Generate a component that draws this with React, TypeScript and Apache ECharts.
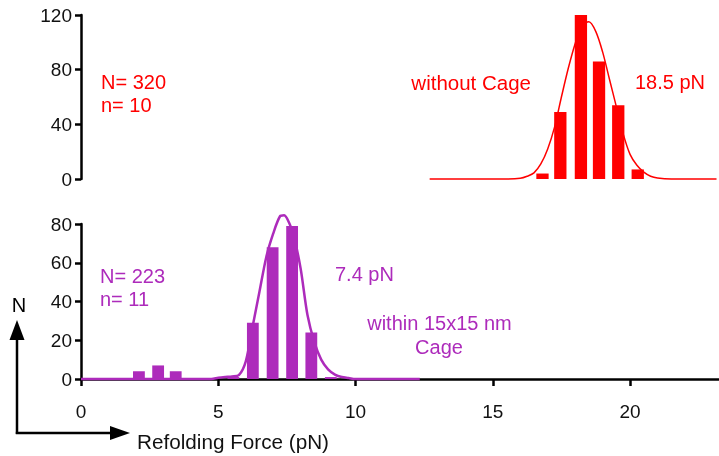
import React, { useEffect, useRef } from "react";
import * as echarts from "echarts";

// ---- data ----
const xTickValues = [0, 5, 10, 15, 20];

// top panel: without cage (red)
const topBinCenters = [16.81, 17.46, 18.21, 18.87, 19.57, 20.28];
const topCounts = [4, 49, 120, 86, 54, 7];
const topFitX = [12.7, 15.5, 16.0, 16.25, 16.5, 16.75, 17.0, 17.25, 17.5, 17.75, 18.0, 18.25, 18.5, 18.75, 19.0, 19.25, 19.5, 19.75, 20.0, 20.25, 20.5, 20.75, 21.0, 21.5, 23.15];
const topFitY = [0, 0, 0.5, 2, 4.5, 11, 22, 38, 60, 81, 99, 112, 115, 108, 93, 73, 53, 33, 18, 10, 5, 2, 0.7, 0, 0];

// bottom panel: within 15x15 nm cage (purple)
const botBinCenters = [2.11, 2.81, 3.45, 5.55, 6.26, 6.98, 7.69, 8.39, 9.1];
const botCounts = [4, 7, 4, 1, 29, 68, 79, 24, 1];
const botFitX = [0, 4.75, 5.0, 5.25, 5.5, 5.75, 6.0, 6.25, 6.5, 6.75, 7.0, 7.25, 7.4, 7.6, 7.75, 8.0, 8.25, 8.5, 8.75, 9.0, 9.25, 9.5, 9.75, 10.0, 12.34];
const botFitY = [0, 0, 0.6, 1, 1.3, 2, 9, 27, 45, 63, 75, 84, 84.5, 80, 74, 57, 33, 19, 10, 5, 2.3, 1, 0.5, 0, 0];

const RED = "#ff0000";
const PURPLE = "#ad2bbb";
const FONT = "'Liberation Sans', Arial, sans-serif";

export default function App() {
  const ref = useRef<HTMLDivElement>(null);
  useEffect(() => {
    if (!ref.current) return;
    const chart = echarts.init(ref.current, undefined, { renderer: "svg" });
    const xMax = 23.24;
    const axisLine = { show: true, lineStyle: { color: "#000", width: 2.5 } };
    const axisTick = { show: true, length: 6, lineStyle: { color: "#000", width: 2.5 } };
    const labelStyle = { color: "#111", fontSize: 19, fontFamily: FONT };
    const text = (t: string, x: number, y: number, fill: string, align = "left", size = 20) => ({
      type: "text",
      x,
      y,
      style: { text: t, fill, font: `${size}px ${FONT}`, align, verticalAlign: "middle" },
    });
    chart.setOption({
      animation: false,
      grid: [
        { left: 81, top: 15, width: 638, height: 164 },
        { left: 81, top: 224, width: 638, height: 155 },
      ],
      xAxis: [
        { gridIndex: 0, type: "value", min: 0, max: xMax, show: false },
        {
          gridIndex: 1,
          type: "value",
          min: 0,
          max: xMax,
          interval: 5,
          offset: 9,
          axisLine,
          axisTick: { show: true, length: 7, lineStyle: { color: "#000", width: 2.5 }, customValues: xTickValues },
          axisLabel: { ...labelStyle, margin: 14, customValues: xTickValues },
          splitLine: { show: false },
        },
      ],
      yAxis: [
        {
          gridIndex: 0,
          type: "value",
          min: 0,
          max: 120,
          interval: 40,
          offset: 1,
          axisLine,
          axisTick,
          axisLabel: { ...labelStyle, margin: 8 },
          splitLine: { show: false },
        },
        {
          gridIndex: 1,
          type: "value",
          min: 0,
          max: 80,
          interval: 20,
          offset: 1,
          axisLine,
          axisTick,
          axisLabel: { ...labelStyle, margin: 8 },
          splitLine: { show: false },
        },
      ],
      series: [
        {
          type: "line",
          xAxisIndex: 0,
          yAxisIndex: 0,
          data: topFitX.map((x, i) => [x, topFitY[i]]),
          smooth: 0.3,
          showSymbol: false,
          clip: false,
          lineStyle: { color: RED, width: 1.5 },
          z: 1,
        },
        {
          type: "bar",
          xAxisIndex: 0,
          yAxisIndex: 0,
          data: topBinCenters.map((x, i) => [x, topCounts[i]]),
          barWidth: 12.3,
          itemStyle: { color: RED },
          z: 2,
        },
        {
          type: "line",
          xAxisIndex: 1,
          yAxisIndex: 1,
          data: botFitX.map((x, i) => [x, botFitY[i]]),
          smooth: 0.3,
          showSymbol: false,
          clip: false,
          lineStyle: { color: PURPLE, width: 2.5 },
          z: 1,
        },
        {
          type: "bar",
          xAxisIndex: 1,
          yAxisIndex: 1,
          data: botBinCenters.map((x, i) => [x, botCounts[i]]),
          barWidth: 11.8,
          itemStyle: { color: PURPLE },
          z: 2,
        },
      ],
      graphic: [
        text("N= 320", 101, 82, RED),
        text("n= 10", 101, 105, RED),
        text("without Cage", 531, 82, RED, "right", 20.5),
        text("18.5 pN", 635, 82, RED),
        text("N= 223", 100, 276, PURPLE),
        text("n= 11", 100, 299, PURPLE),
        text("7.4 pN", 335, 274, PURPLE),
        text("within 15x15 nm", 439.5, 323, PURPLE, "center"),
        text("Cage", 439, 347, PURPLE, "center"),
        text("N", 19, 305, "#000", "center"),
        text("Refolding Force (pN)", 137, 441, "#111", "left", 20.7),
        { type: "line", shape: { x1: 17, y1: 434, x2: 17, y2: 336 }, style: { stroke: "#000", lineWidth: 2.5 } },
        { type: "polygon", shape: { points: [[17, 320], [9.5, 340], [24.5, 340]] }, style: { fill: "#000" } },
        { type: "line", shape: { x1: 15.8, y1: 433, x2: 114, y2: 433 }, style: { stroke: "#000", lineWidth: 2.5 } },
        { type: "polygon", shape: { points: [[130, 433], [110, 426], [110, 440]] }, style: { fill: "#000" } },
      ],
    });
    return () => chart.dispose();
  }, []);
  return <div ref={ref} style={{ position: "fixed", left: 0, top: 0, width: 719, height: 456 }} />;
}
